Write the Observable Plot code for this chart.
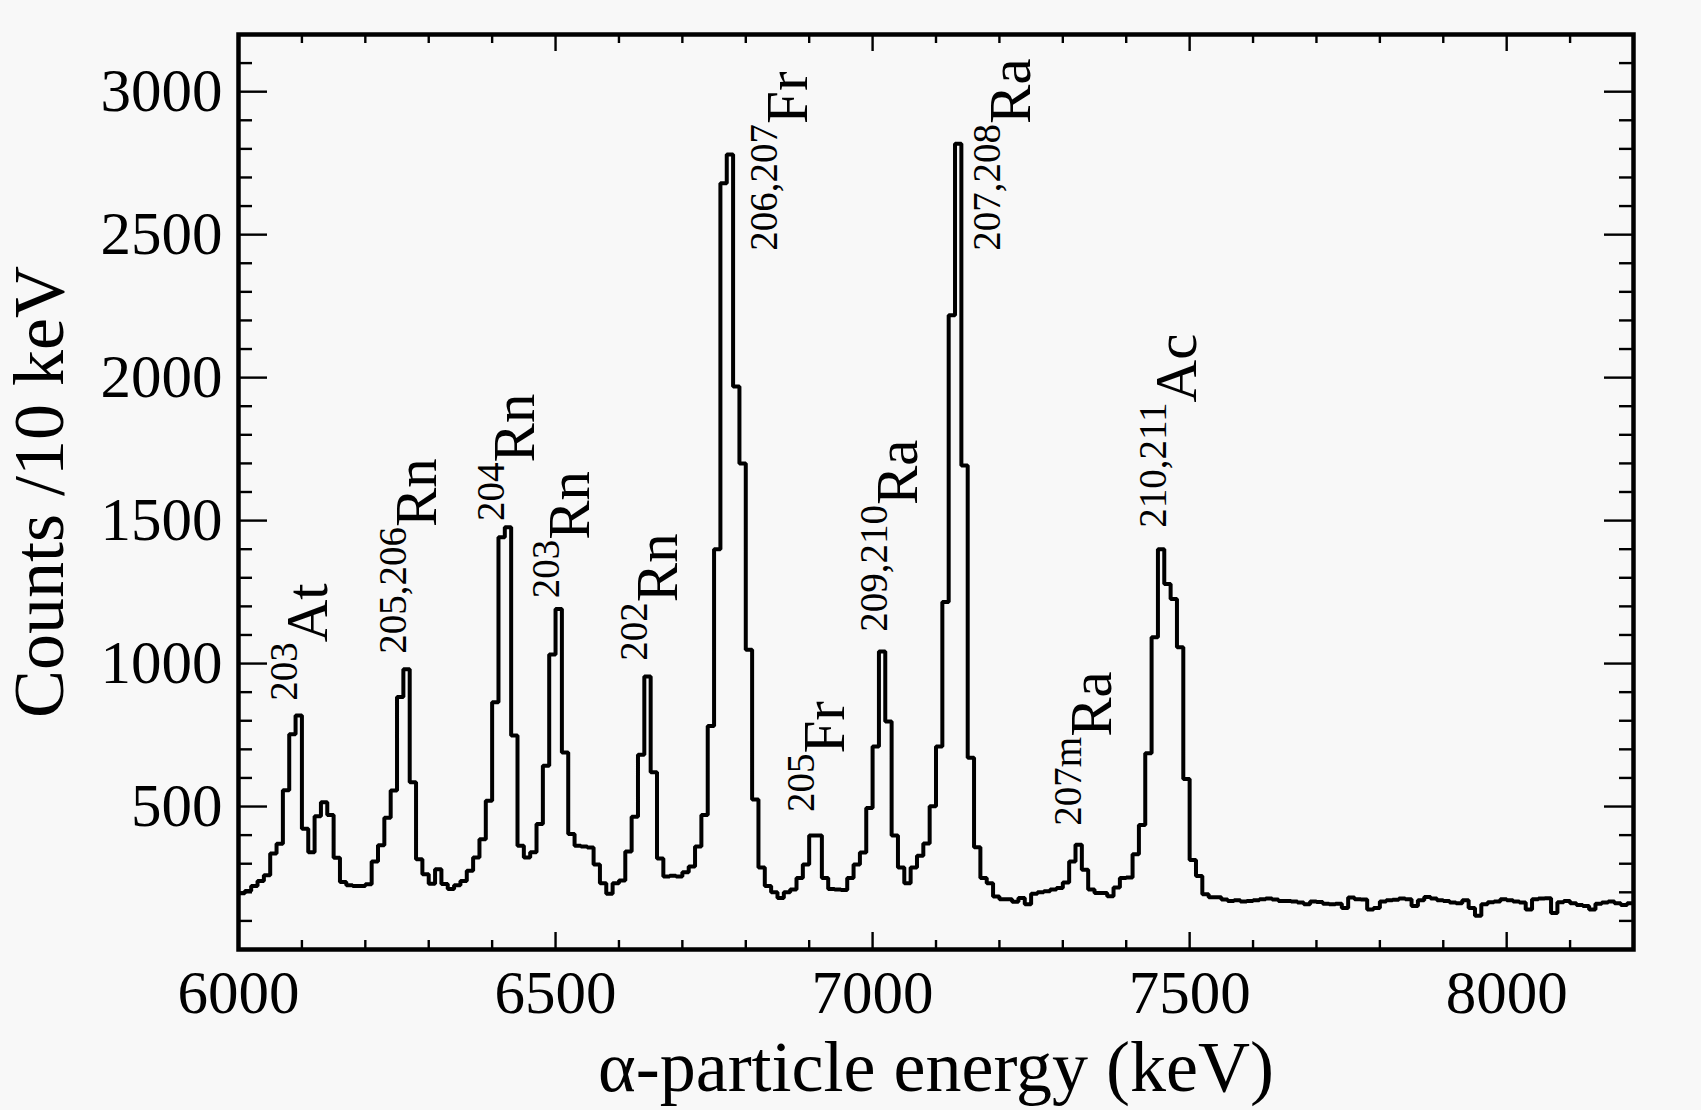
<!DOCTYPE html>
<html>
<head>
<meta charset="utf-8">
<script src="https://cdn.jsdelivr.net/npm/d3@7"></script>
<script src="https://cdn.jsdelivr.net/npm/@observablehq/plot@0.6"></script>
<style>
  html, body { margin: 0; padding: 0; background: #f8f8f8; }
  svg { display: block; }
</style>
</head>
<body>
<div id="chart"></div>
<script>
// ---- data ----
const binStart = 6000;   // keV, left edge of first bin
const binWidth = 10;     // keV per bin
const counts = [
  197, 205, 222, 240, 260, 336, 370, 557, 753, 818,
  422, 340, 466, 515, 470, 321, 236, 225, 222, 222,
  228, 308, 365, 461, 556, 883, 980, 585, 316, 263,
  230, 281, 229, 212, 225, 240, 275, 322, 386, 520,
  865, 1442, 1477, 748, 363, 322, 340, 439, 643, 1032,
  1191, 689, 404, 363, 360, 357, 297, 232, 195, 232,
  241, 343, 464, 681, 955, 620, 318, 255, 258, 255,
  270, 290, 360, 470, 782, 1400, 2680, 2780, 1969, 1700,
  1048, 525, 287, 222, 200, 180, 200, 210, 250, 297,
  399, 399, 250, 212, 210, 208, 250, 297, 339, 495,
  710, 1042, 797, 399, 287, 232, 287, 328, 371, 501,
  710, 1215, 2218, 2818, 1693, 671, 358, 250, 232, 185,
  176, 176, 167, 180, 158, 195, 200, 204, 210, 215,
  234, 308, 366, 279, 210, 198, 198, 186, 217, 250,
  252, 333, 435, 686, 1092, 1400, 1278, 1226, 1057, 596,
  313, 257, 193, 183, 183, 175, 170, 172, 168, 170,
  172, 176, 178, 175, 170, 170, 168, 164, 158, 168,
  166, 160, 158, 160, 145, 182, 176, 175, 140, 145,
  168, 172, 174, 178, 176, 152, 172, 184, 178, 172,
  170, 164, 162, 172, 145, 118, 158, 165, 168, 176,
  172, 168, 164, 140, 176, 178, 179, 128, 165, 170,
  162, 156, 152, 140, 160, 164, 168, 162, 156, 162
];

const xDomain = [6000, 8200];
const yDomain = [0, 3200];
const xMajorTicks = [6000, 6500, 7000, 7500, 8000];
const xMinorTicks = [6100, 6200, 6300, 6400, 6600, 6700, 6800, 6900, 7100, 7200, 7300, 7400,
                     7600, 7700, 7800, 7900, 8100];
const yMajorTicks = [500, 1000, 1500, 2000, 2500, 3000];
const yMinorTicks = [100, 200, 300, 400, 600, 700, 800, 900, 1100, 1200, 1300, 1400,
                     1600, 1700, 1800, 1900, 2100, 2200, 2300, 2400, 2600, 2700, 2800, 2900, 3100];

// isotope labels: superscript mass number, element, anchor energy (keV), anchor counts
const labelSup    = ["203", "205,206", "204", "203", "202", "206,207", "205", "209,210", "207,208", "207m", "210,211"];
const labelEl     = ["At",  "Rn",      "Rn",  "Rn",  "Rn",  "Fr",      "Fr",  "Ra",      "Ra",      "Ra",   "Ac"];
const labelEnergy = [6140,  6312,      6466,  6552,  6691,  6896,      6955,  7070,      7248,      7376,   7510];
const labelCounts = [870,   1034,      1499,  1228,  1010,  2444,      481,   1111,      2444,      433,    1475];

const xTitle = "α-particle energy (keV)";
const yTitle = "Counts /10 keV";

// ---- build tables ----
const hist = counts.map((c, i) => ({e: binStart + i * binWidth, c}));
hist.push({e: binStart + counts.length * binWidth, c: counts[counts.length - 1]});
const labels = labelSup.map((s, i) => ({sup: s, el: labelEl[i], e: labelEnergy[i], c: labelCounts[i]}));

// ---- layout ----
const W = 1701, H = 1110;
const mL = 238, mR = 68, mT = 34, mB = 161;
const innerW = W - mL - mR, innerH = H - mT - mB;
const majX = 17, minX = 9, majY = 29, minY = 14;
const tickW = 2.4;

const plot = Plot.plot({
  width: W, height: H,
  marginLeft: mL, marginRight: mR, marginTop: mT, marginBottom: mB,
  style: {fontFamily: "'Liberation Serif', 'Times New Roman', serif", background: "#f8f8f8", color: "#000"},
  x: {domain: xDomain, nice: false, label: null},
  y: {domain: yDomain, nice: false, label: null},
  marks: [
    // inward ticks, bottom & top
    Plot.ruleX(xMajorTicks, {x: d => d, insetTop: innerH - majX, strokeWidth: tickW, stroke: "#000"}),
    Plot.ruleX(xMinorTicks, {x: d => d, insetTop: innerH - minX, strokeWidth: tickW, stroke: "#000"}),
    Plot.ruleX(xMajorTicks, {x: d => d, insetBottom: innerH - majX, strokeWidth: tickW, stroke: "#000"}),
    Plot.ruleX(xMinorTicks, {x: d => d, insetBottom: innerH - minX, strokeWidth: tickW, stroke: "#000"}),
    // inward ticks, left & right
    Plot.ruleY(yMajorTicks, {y: d => d, insetRight: innerW - majY, strokeWidth: tickW, stroke: "#000"}),
    Plot.ruleY(yMinorTicks, {y: d => d, insetRight: innerW - minY, strokeWidth: tickW, stroke: "#000"}),
    Plot.ruleY(yMajorTicks, {y: d => d, insetLeft: innerW - majY, strokeWidth: tickW, stroke: "#000"}),
    Plot.ruleY(yMinorTicks, {y: d => d, insetLeft: innerW - minY, strokeWidth: tickW, stroke: "#000"}),
    // tick labels
    Plot.axisX({ticks: xMajorTicks, tickSize: 0, tickPadding: 20, fontSize: 61, tickFormat: "d", label: null}),
    Plot.axisY({ticks: yMajorTicks, tickSize: 0, tickPadding: 16, fontSize: 61, tickFormat: "d", label: null}),
    // histogram
    Plot.line(hist, {x: "e", y: "c", curve: "step-after", stroke: "#000", strokeWidth: 4,
                     strokeLinejoin: "miter", strokeLinecap: "butt"}),
    // isotope labels
    Plot.text(labels, {x: "e", y: "c", text: d => d.sup + "|" + d.el, rotate: -90,
                       textAnchor: "start", lineAnchor: "bottom", fontSize: 59, fill: "#000"}),
    // axis titles
    Plot.text([xTitle], {frameAnchor: "bottom", text: d => d, lineAnchor: "bottom", dy: 141, fontSize: 72, fill: "#000"}),
    Plot.text([yTitle], {frameAnchor: "left", text: d => d, rotate: -90, textAnchor: "middle",
                         lineAnchor: "bottom", dx: 62 - mL, fontSize: 72, fill: "#000"}),
    Plot.frame({stroke: "#000", strokeWidth: 4.5})
  ]
});

// turn "sup|El" labels into superscript + element
d3.select(plot).selectAll("text").each(function () {
  if (this.childElementCount > 0) return;
  const s = this.textContent;
  if (!s.includes("|")) return;
  const [sup, el] = s.split("|");
  const t = d3.select(this);
  t.text(null);
  t.append("tspan").attr("font-size", 39).attr("dy", -30).text(sup);
  t.append("tspan").attr("font-size", 59).attr("dy", 30).text(el);
});

document.getElementById("chart").appendChild(plot);
</script>
</body>
</html>
